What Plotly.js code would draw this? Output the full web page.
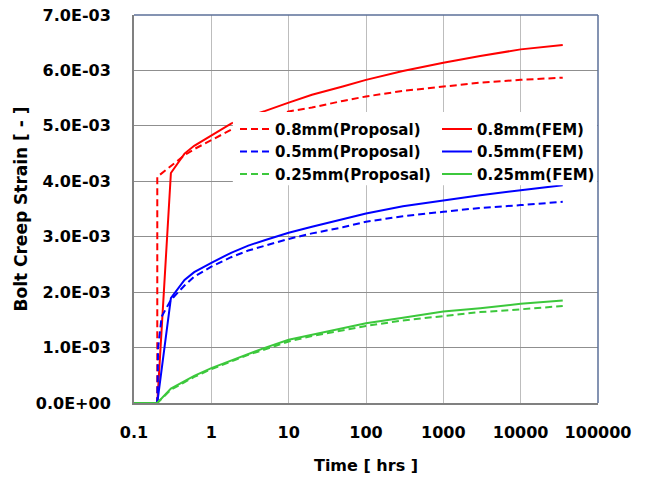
<!DOCTYPE html>
<html>
<head>
<meta charset="utf-8">
<script src="https://cdn.plot.ly/plotly-3.0.1.min.js"></script>
<style>html,body{margin:0;padding:0;background:#fff;}#chart{width:652px;height:479px;}</style>
</head>
<body>
<div id="chart"></div>
<script>
// ---- data (time in hrs, strain in units of 1e-3) ----
const timeFEM = [0.1, 0.2, 0.3, 0.45, 0.6, 1, 1.8, 3, 5, 10, 20, 50, 100, 300, 1000, 3000, 10000, 35000];
const fem08  = [0, 0, 4.15, 4.50, 4.64, 4.83, 5.04, 5.17, 5.27, 5.42, 5.56, 5.71, 5.83, 5.99, 6.14, 6.26, 6.38, 6.46];
const fem05  = [0, 0, 1.89, 2.22, 2.36, 2.53, 2.71, 2.84, 2.94, 3.07, 3.18, 3.31, 3.42, 3.55, 3.66, 3.75, 3.84, 3.93];
const fem025 = [0, 0, 0.26, 0.39, 0.49, 0.63, 0.77, 0.89, 1.00, 1.14, 1.23, 1.35, 1.44, 1.54, 1.65, 1.71, 1.79, 1.85];

const timeProp08 = [0.1, 0.2, 0.2, 0.3, 0.45, 0.6, 1, 1.8, 3, 5, 10, 20, 50, 100, 300, 1000, 3000, 10000, 35000];
const prop08 = [0, 0, 4.08, 4.28, 4.47, 4.58, 4.74, 4.93, 5.04, 5.14, 5.26, 5.33, 5.45, 5.53, 5.63, 5.71, 5.78, 5.83, 5.87];

const timeProp05 = [0.1, 0.2, 0.205, 0.228, 0.3, 0.45, 0.6, 1, 1.8, 3, 5, 10, 20, 50, 100, 300, 1000, 3000, 10000, 35000];
const prop05 = [0, 0, 1.00, 1.56, 1.86, 2.12, 2.28, 2.46, 2.63, 2.75, 2.84, 2.96, 3.06, 3.17, 3.27, 3.37, 3.45, 3.52, 3.57, 3.63];

const timeProp025 = [0.1, 0.2, 0.3, 0.45, 0.6, 1, 1.8, 3, 5, 10, 20, 50, 100, 300, 1000, 3000, 10000, 35000];
const prop025 = [0, 0, 0.24, 0.37, 0.47, 0.61, 0.75, 0.87, 0.97, 1.11, 1.21, 1.31, 1.39, 1.49, 1.57, 1.64, 1.69, 1.75];

const seriesNames = ['0.8mm(Proposal)', '0.8mm(FEM)', '0.5mm(Proposal)', '0.5mm(FEM)', '0.25mm(Proposal)', '0.25mm(FEM)'];

const xTickVals = [0.1, 1, 10, 100, 1000, 10000, 100000];
const xTickText = ['0.1', '1', '10', '100', '1000', '10000', '100000'];
const yTickVals = [0, 0.001, 0.002, 0.003, 0.004, 0.005, 0.006, 0.007];
const yTickText = ['0.0E+00', '1.0E-03', '2.0E-03', '3.0E-03', '4.0E-03', '5.0E-03', '6.0E-03', '7.0E-03'];

// ---- styling ----
const RED = '#ff0000', BLUE = '#0000ff', GREEN = '#3cc83c';
const DASH = '7px,4px';
const FONT = '"DejaVu Sans", sans-serif';
const scale = v => v.map(d => d / 1000);

function tr(name, x, y, color, dashed) {
  return {
    type: 'scatter', mode: 'lines', name: name, x: x, y: scale(y),
    line: {color: color, width: 2, dash: dashed ? DASH : 'solid'},
    hoverinfo: 'skip'
  };
}

const data = [
  tr(seriesNames[0], timeProp08, prop08, RED, true),
  tr(seriesNames[1], timeFEM, fem08, RED, false),
  tr(seriesNames[2], timeProp05, prop05, BLUE, true),
  tr(seriesNames[3], timeFEM, fem05, BLUE, false),
  tr(seriesNames[4], timeProp025, prop025, GREEN, true),
  tr(seriesNames[5], timeFEM, fem025, GREEN, false)
];

const layout = {
  width: 652, height: 479,
  margin: {l: 134, r: 54, t: 15, b: 76},
  paper_bgcolor: '#ffffff', plot_bgcolor: '#ffffff',
  font: {family: FONT, size: 16, color: '#000000', weight: 'bold'},
  showlegend: true,
  legend: {
    orientation: 'h', x: 0.2177, y: 0.748, xanchor: 'left', yanchor: 'top',
    entrywidth: 157, bgcolor: 'rgba(0,0,0,0)', borderwidth: 0,
    font: {family: FONT, size: 15, color: '#000000', weight: 'bold'},
    traceorder: 'normal'
  },
  xaxis: {
    type: 'log', range: [-1, 5],
    tickvals: xTickVals, ticktext: xTickText,
    ticks: '', ticklabelstandoff: 14,
    showgrid: true, gridcolor: '#bdbdbd', gridwidth: 1,
    showline: true, linecolor: '#808080', linewidth: 2,
    zeroline: false,
    tickfont: {family: FONT, size: 16, color: '#000000', weight: 'bold'},
    title: {text: 'Time [ hrs ]', standoff: 19, font: {family: FONT, size: 16, color: '#000000', weight: 'bold'}}
  },
  yaxis: {
    range: [0, 0.007],
    tickvals: yTickVals, ticktext: yTickText,
    ticks: '', ticklabelstandoff: 18,
    showgrid: true, gridcolor: '#8f8f8f', gridwidth: 1,
    showline: true, linecolor: '#808080', linewidth: 2,
    zeroline: false,
    tickfont: {family: FONT, size: 16, color: '#000000', weight: 'bold'},
    title: {text: 'Bolt Creep Strain [ - ]', standoff: 4, font: {family: FONT, size: 17, color: '#000000', weight: 'bold'}}
  },
  shapes: [
    {type: 'rect', xref: 'paper', yref: 'paper', x0: 0.213, x1: 0.998, y0: 0.561, y1: 0.75,
     fillcolor: '#ffffff', line: {width: 0}, layer: 'above'},
    {type: 'line', xref: 'paper', yref: 'paper', x0: 0, x1: 1, y0: 1, y1: 1,
     line: {color: '#5b6f98', width: 1.5}, layer: 'above'},
    {type: 'line', xref: 'paper', yref: 'paper', x0: 1, x1: 1, y0: 0, y1: 1,
     line: {color: '#5b6f98', width: 1.5}, layer: 'above'}
  ]
};

Plotly.newPlot('chart', data, layout, {displayModeBar: false, staticPlot: true});
</script>
</body>
</html>
